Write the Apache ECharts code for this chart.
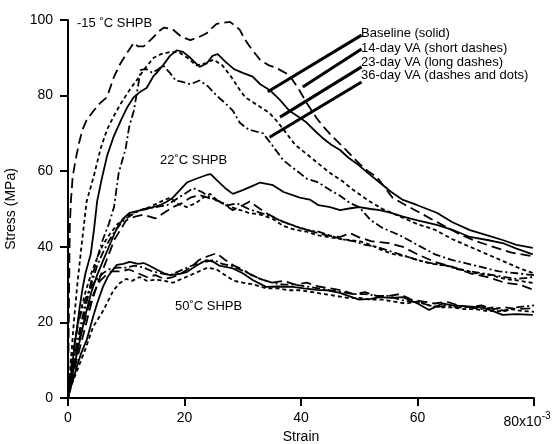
<!DOCTYPE html>
<html>
<head>
<meta charset="utf-8">
<script src="https://cdn.jsdelivr.net/npm/echarts@6/dist/echarts.min.js"></script>
<style>
html, body { margin: 0; padding: 0; background: #fff; }
#chart { width: 556px; height: 444px; }
</style>
</head>
<body>
<div id="chart"></div>
<script>
// strain (x10^-3), stress (MPa)

// -15 C SHPB
var m15Baseline = [[0,0],[0.5,6],[1,12],[1.5,18],[2,24],[2.5,29],[3,33],[3.9,38],[4.5,45],[5,52],[5.8,58],[6.7,64],[7.8,69],[9.1,73.5],[10.2,77],[11.3,79.6],[12.4,81],[13.5,82],[14.6,85],[15.5,86.5],[16.3,88],[17.5,90.5],[18.7,92],[19.8,91.5],[21,90],[22.6,87.6],[23.8,88.5],[24.8,90.5],[25.7,91],[27,89],[28.5,87],[30,86],[31.7,85],[33,83],[34.6,81.5],[36.3,79],[38,76],[39.5,74.5],[41,72.8],[42.5,70.5],[43.7,68.8],[45.2,67],[46.7,65.6],[48.2,63.5],[49.6,62],[51.5,59.5],[53.5,57],[55.5,54.5],[57.5,52.4],[60,51],[63.3,49],[66,46.5],[69,44.4],[72,43],[74.6,41.8],[77,40.5],[79.8,39.7]];
var m15Day14 = [[0,0],[0.5,10],[1,20],[1.6,30],[2.3,40],[3.2,52],[4.4,58.5],[5.6,66],[6.7,71],[8,75],[9.1,78],[10.8,82],[12,84.5],[13,86.8],[14.7,90],[16,91],[17.5,91.5],[19,91.5],[20.5,90],[22,88],[23.5,88.5],[25,89.5],[26.5,88],[28,85],[29.5,81.5],[30.4,79.6],[32.5,77.5],[34.6,75.4],[36,73],[37.5,70],[39,67],[41,64.5],[43,62],[45,59.5],[47,57.5],[49,55],[51.8,52],[54,50],[57,48],[60,46],[63,44.5],[66,42],[69,40],[72,38],[75,36],[78,34],[80,33]];
var m15Day23 = [[0,0],[0.1,15],[0.2,30],[0.3,45],[0.5,52],[0.8,58.5],[1.3,63],[1.9,67.5],[2.5,71],[3.2,73.5],[4.4,76],[5.5,78],[6.7,79.6],[7.9,85],[9,88.5],[10,91],[11.3,94],[12,93],[13,93],[14,94.5],[14.7,95.5],[15.6,97],[16.5,98],[18,97.5],[19.5,95.5],[21,94.7],[22.5,95.5],[23.8,96.5],[25.5,99],[26.8,99.3],[27.8,99.5],[28.7,98.5],[29.5,97.4],[30.3,95],[31.2,93],[33,89.4],[34.5,88],[35.8,87.3],[38,85.4],[39.5,82],[41,78],[42.7,74],[44,71.5],[45.5,69],[47.5,66],[50,62],[51.5,60],[53,58.5],[55.7,53],[58,51],[61,48.5],[64,46],[67,43.5],[70,41.5],[73,40],[76,38.5],[79.8,37.5]];
var m15Day36 = [[0,0],[1,8],[2,16],[3,24],[4,31],[5,37],[6,42],[7,46],[7.9,50.5],[8.7,59.5],[9.9,66],[10.5,71.7],[11.3,76],[12.5,86.8],[13.5,87],[14.5,86],[15.5,87],[16.3,88],[17.5,86],[18.5,84],[19.7,83.6],[21,83],[22.6,84],[24,82.5],[25.5,80],[27,78],[28.3,76],[29.5,72.8],[31,71],[33.5,70],[35,67],[36.9,63],[38.5,61],[39.8,59.5],[41,58],[43,57],[45,55],[46.7,53.5],[48.5,51.5],[50,50.5],[52,47],[54,45],[57,43],[60,40.5],[63,38],[66,36.5],[70,35],[74,33.5],[77,33],[80,32.5]];

// 22 C SHPB
var r22Baseline = [[0,0],[0.5,4],[1,8],[2,15],[3,22],[4,28],[5,32.5],[6.2,37],[7.3,41],[8.4,45],[9.5,47.5],[10.6,49],[12,49.5],[13.5,50],[15.8,51],[17,52],[18,53],[19.2,55],[20.4,57],[22,58],[23.8,59],[24.5,59.2],[25.5,57.7],[27,55.5],[28.3,54],[30,55],[31.5,56],[33,57],[35.2,56.3],[37,54.5],[39.8,53],[41.5,52.5],[43,51],[45,50.5],[46.7,49.7],[48.5,50.2],[50,50.5],[52,50],[53.5,49.7],[55.5,49],[57.5,48],[60,47],[63.3,45.8],[66,44.5],[69,42.6],[72,41.8],[74.6,41],[77,39.5],[79.8,38]];
var r22Day14 = [[0,0],[0.5,8],[1,14],[2,22],[3,28],[4,33],[5,37],[6,40.5],[7,43],[8.5,46],[10,48],[12,49.5],[14,50.5],[16,52],[17.5,53],[18.7,51.5],[20.4,50.5],[22,51.6],[23.2,53],[24.4,54],[25.5,52.5],[27,51],[29,50],[31,49],[33,48.5],[35,47.5],[37,45.5],[39,44.5],[41,44],[43,43],[45,42.5],[47,42],[50,41.5],[52,40.5],[54,39],[56,38],[58,37.5],[60,36.5],[62.5,35.5],[65,35],[67.5,34],[70,33],[72.5,32.5],[75,31.5],[77.5,31],[80,30.4]];
var r22Day23 = [[0,0],[0.5,3],[1,7],[2,13],[3,19],[4,25],[5,30],[6,34],[7,38],[8,42],[9,44.5],[10,47],[11.5,48],[13,48.5],[15,47.5],[16.5,49],[18,50.5],[19.5,51.5],[21,53],[22.6,53.7],[24,53],[26,52],[28.3,49.7],[30,51],[31.2,52],[33,50],[34.5,48.5],[36.4,47],[38,46],[39.8,45],[42,44],[44.5,43],[46.7,42.6],[48.4,43.6],[50,42.5],[52,41.5],[55,41],[57.5,40],[60,38],[63,36],[66,34.7],[69,33],[72,32],[75,30.5],[77.5,30],[80,28.6]];
var r22Day36 = [[0,0],[0.5,5],[1,10],[2,18],[3,25],[4,30],[5,35],[6,38.5],[7,41.5],[8,44],[9,46],[10,47.5],[11.5,49],[13,50],[15,50.5],[17,51],[18.5,52.5],[20,54],[21.5,55.5],[23,54.5],[24.5,53],[26,52],[27.5,51],[29,51.5],[31,50],[33,49],[35,48],[37,46.5],[39,45.5],[41,44.5],[43,44],[45,43],[47,42],[49,41.5],[51,40.5],[53,40],[55,39],[57,38],[59,37],[61,36],[63,35.5],[65,35],[67,34],[69,33.5],[71,33],[73,32.5],[75,32],[77,31.5],[80,32]];

// 50 C SHPB
var h50Baseline = [[0,0],[0.5,3],[1,5.5],[1.5,8.2],[2.3,12],[3.2,15.3],[4.3,21.4],[5,25],[6,29.4],[6.8,32],[7.7,33.9],[8.4,35.2],[9.5,35.5],[10.6,36],[12,35.5],[13,35.7],[14,35],[15.2,34],[16.5,33],[17.5,32.5],[19,32.8],[20.4,33.3],[22,35],[23.8,36.5],[25,36],[26,35],[28.3,34.3],[30,33],[31.7,31.2],[34,29.4],[36,29.5],[38.6,29.4],[40.5,29],[42.7,28.6],[44.5,28.5],[46.7,27.8],[48.5,26.8],[50,26],[52,26.2],[53.5,26.7],[55.5,26.5],[57.5,26.7],[60,25],[62,23.3],[64.3,25],[66,24.5],[68,24.3],[71,24],[73,23],[74.6,22],[77,22.2],[79.8,22]];
var h50Day14 = [[0,0],[0.5,3],[1,5],[2,9],[3,13],[4.3,18.8],[5,20.5],[6,23],[7,26],[7.8,28.5],[8.9,30.4],[10,31.5],[11,31],[12.3,32],[13.5,31],[15,31.3],[16.5,31],[18,30.5],[19.5,31.5],[21,32.5],[22.5,33.5],[24,34.5],[25.5,34],[27,32.5],[28.5,31],[30,30.5],[32,30],[34,29],[36,29],[38,28.5],[40,28.5],[42,28],[44,27.5],[46,27],[48,26.5],[50,26.5],[52,26],[54,26],[56,25.5],[58,25],[60,25.5],[62,24.5],[64,24],[66,24],[68,23.5],[70,23.5],[72,23],[74,23],[76,23.5],[78,23],[80,22.8]];
var h50Day23 = [[0,0],[0.4,4],[0.8,8],[1.3,12],[2,16],[2.8,20],[3.5,24],[4.5,28],[5.5,31],[6.5,32.5],[7.5,33.5],[9,33.5],[10.5,34],[12,33],[13.5,32],[15,32.5],[16.5,31.5],[18,32],[19.5,33],[21,34.5],[22.5,36.5],[24,37.5],[25.5,38.3],[27,36.5],[28.5,35],[30,34],[31.5,32.5],[33,31.5],[35,30.5],[37,31],[39,30],[41,30.5],[43,29.5],[45,29],[47,28.5],[49,27.5],[51,28],[53,27],[55,27],[57,27.5],[59,26],[61,25.5],[63,25],[65,25.5],[67,24.5],[69,24],[71,24.5],[73,23.5],[75,24],[77,23.5],[80,23.8]];
var h50Day36 = [[0,0],[0.3,5],[0.7,10],[1.2,15],[1.8,20],[2.5,24],[3.2,27],[4,29.5],[5,31.5],[6,33],[7,34],[8.5,34.5],[10,34.5],[11.5,35],[13,34.5],[14.5,33.5],[16,33],[17.5,32.5],[19,33.5],[20.5,34.5],[22,35.5],[23.5,36],[25,36.5],[26.5,35.5],[28,35],[29.5,34],[31,33],[33,31.5],[35,30.5],[37,30],[39,30],[41,29.5],[43,29],[45,28.5],[47,28],[49,27.5],[51,27.5],[53,27],[55,27],[57,26],[59,25.5],[61,25],[63,24],[65,24.5],[67,24],[69,24],[71,23.5],[73,24],[75,23],[77,24],[80,24.5]];

// legend text and the leader lines from it (data units)
var legendTexts = ['Baseline (solid)', '14-day VA (short dashes)', '23-day VA (long dashes)', '36-day VA (dashes and dots)'];
var leaderLines = [
	[[50.4, 96.0], [34.3, 81.0]],
	[[50.4, 92.3], [40.3, 82.3]],
	[[50.4, 87.6], [36.4, 74.3]],
	[[50.4, 83.6], [34.6, 69.0]]
];

var xTicks = [0, 20, 40, 60, 80];
var yTicks = [0, 20, 40, 60, 80, 100];

var FONT = 'Liberation Sans, Arial, Helvetica, sans-serif';

var dashSolid = 'solid';
var dashShort = [4, 3];
var dashLong = [10, 5];
var dashDot = [8, 3, 2, 3];

function curve(data, type)
{
	return {
		type: 'line',
		data: data,
		showSymbol: false,
		symbol: 'none',
		silent: true,
		lineStyle: { color: '#000', width: 1.8, type: type },
		z: 2
	};
}

var series = [
	curve(m15Baseline, dashSolid),
	curve(m15Day14, dashShort),
	curve(m15Day23, dashLong),
	curve(m15Day36, dashDot),
	curve(r22Baseline, dashSolid),
	curve(r22Day14, dashShort),
	curve(r22Day23, dashLong),
	curve(r22Day36, dashDot),
	curve(h50Baseline, dashSolid),
	curve(h50Day14, dashShort),
	curve(h50Day23, dashLong),
	curve(h50Day36, dashDot)
];

// make sure the two axis lines are drawn at strain 0 / stress 0
series[0].markLine = {
	silent: true,
	symbol: 'none',
	label: { show: false },
	lineStyle: { color: '#000', width: 2, type: 'solid' },
	data: [{ yAxis: yTicks[0] }, { xAxis: xTicks[0] }]
};

leaderLines.forEach(function(seg) {
	series.push({
		type: 'line',
		data: seg,
		showSymbol: false,
		symbol: 'none',
		silent: true,
		lineStyle: { color: '#000', width: 3 },
		z: 3
	});
});

function label(text, x, y)
{
	return {
		type: 'text',
		left: x,
		top: y,
		style: { text: text, fill: '#000', font: '13px ' + FONT }
	};
}

var graphics = [
	label('-15 ˚C SHPB', 77, 17),
	label('22˚C SHPB', 160, 154),
	label('50˚C SHPB', 175, 300)
];
legendTexts.forEach(function(t, i) {
	graphics.push(label(t, 361, [27, 42, 56, 69][i]));
});

var chart = echarts.init(document.getElementById('chart'));
var option = {
	animation: false,
	backgroundColor: '#fff',
	grid: { left: 68, right: 22, top: 20, bottom: 46, containLabel: false, outerBoundsMode: 'none' },
	xAxis: {
		type: 'value',
		min: xTicks[0],
		max: xTicks[xTicks.length - 1],
		interval: 20,
		z: 5,
		name: 'Strain',
		nameLocation: 'middle',
		nameGap: 32,
		nameMoveOverlap: false,
		nameTextStyle: { color: '#000', fontSize: 14, fontFamily: FONT },
		axisLine: { show: true, onZero: false, lineStyle: { color: '#000', width: 2 } },
		axisTick: { show: true, inside: false, length: 8, lineStyle: { color: '#000', width: 2 } },
		splitLine: { show: false },
		axisLabel: {
			color: '#000',
			fontSize: 14,
			fontFamily: FONT,
			margin: 13,
			formatter: function(v) {
				return v === 80 ? '80x10{sup|-3}' : String(v);
			},
			rich: {
				sup: { fontSize: 10, fontFamily: FONT, color: '#000', padding: [0, 14, 12, 0] }
			}
		}
	},
	yAxis: {
		type: 'value',
		min: yTicks[0],
		max: yTicks[yTicks.length - 1],
		interval: 20,
		z: 5,
		name: 'Stress (MPa)',
		nameLocation: 'middle',
		nameGap: 50,
		nameMoveOverlap: false,
		nameTextStyle: { color: '#000', fontSize: 14, fontFamily: FONT },
		axisLine: { show: true, onZero: false, lineStyle: { color: '#000', width: 2 } },
		axisTick: { show: true, inside: false, length: 8, lineStyle: { color: '#000', width: 2 } },
		splitLine: { show: false },
		axisLabel: { color: '#000', fontSize: 14, fontFamily: FONT, margin: 15 }
	},
	series: series,
	graphic: graphics
};
chart.setOption(option);
</script>
</body>
</html>
